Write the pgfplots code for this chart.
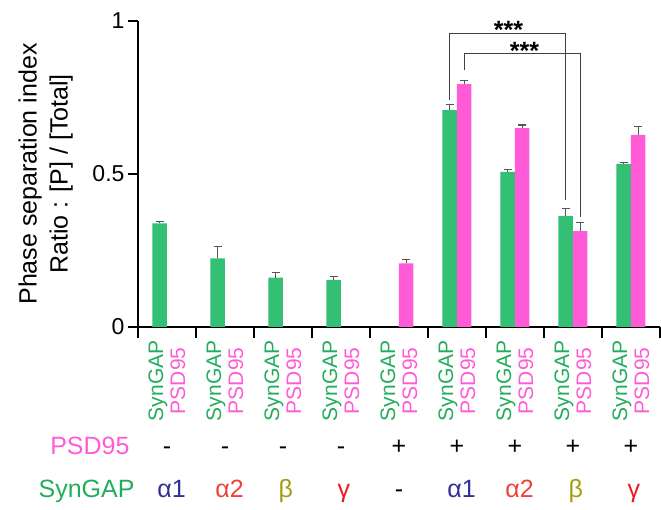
\documentclass[border=0pt]{standalone}
\usepackage{fontspec}
\setmainfont{Liberation Sans}
\usepackage{pgfplots}
\pgfplotsset{compat=1.18}
\definecolor{sgreen}{HTML}{33BF74}
\definecolor{tgreen}{HTML}{22AD5C}
\definecolor{spink}{HTML}{FF5BD6}
\definecolor{ga1}{HTML}{2E3192}
\definecolor{ga2}{HTML}{EF4136}
\definecolor{gb}{HTML}{A59B10}
\definecolor{gg}{HTML}{ED1C24}
\definecolor{ebar}{HTML}{555555}
\newcommand{\lab}{\textcolor{tgreen}{SynGAP}\\\textcolor{spink}{PSD95}}
\begin{document}
\begin{tikzpicture}
\path[use as bounding box] (-138pt,-183pt) rectangle (523pt,327pt);
\begin{axis}[
  at={(0,0)}, anchor=south west,
  scale only axis, width=522pt, height=306pt,
  xmin=0.5, xmax=9.5, ymin=0, ymax=1,
  axis x line*=bottom, axis y line*=left,
  axis line style={line width=1.1pt, black},
  clip=false,
  /pgf/number format/assume math mode=true,
  ytick={0,0.5,1}, yticklabels={0,0.5,1},
  yticklabel style={font=\fontsize{23}{26}\selectfont},
  xtick={1,...,9},
  xticklabels={{\lab},{\lab},{\lab},{\lab},{\lab},{\lab},{\lab},{\lab},{\lab}},
  xticklabel style={rotate=90, anchor=east, align=center, font=\fontsize{21}{22}\selectfont},
  major x tick style={draw=none},
  minor xtick={0.5,1.5,2.5,3.5,4.5,5.5,6.5,7.5,8.5,9.5},
  minor tick length=11pt,
  major tick length=10pt,
  tick align=outside,
  tick style={line width=1.1pt, black},
  ylabel={Phase separation index\\Ratio : [P] / [Total]},
  ylabel style={align=center, font=\fontsize{25}{31}\selectfont, at={(axis description cs:-0.177,0.5)}, anchor=center},
  error bars/y dir=plus, error bars/y explicit,
  error bars/error bar style={ebar, line width=1.1pt},
  error bars/error mark options={ebar, line width=1.1pt, mark size=3.8pt, rotate=90},
]
% SynGAP (green) bars, plotted at group - 0.125
\addplot[ybar, bar width=0.25, bar shift=0, fill=sgreen, draw=none]
  coordinates {
  (0.875,0.339) +- (0,0.005)
  (1.875,0.224) +- (0,0.038)
  (2.875,0.161) +- (0,0.018)
  (3.875,0.154) +- (0,0.010)
  (5.875,0.709) +- (0,0.017)
  (6.875,0.507) +- (0,0.009)
  (7.875,0.363) +- (0,0.025)
  (8.875,0.533) +- (0,0.006)
  };
% PSD95 (pink) bars, plotted at group + 0.125
\addplot[ybar, bar width=0.25, bar shift=0, fill=spink, draw=none]
  coordinates {
  (5.125,0.208) +- (0,0.012)
  (6.125,0.794) +- (0,0.011)
  (7.125,0.650) +- (0,0.010)
  (8.125,0.313) +- (0,0.028)
  (9.125,0.628) +- (0,0.026)
  };
% significance brackets
\addplot[sharp plot, no marks, draw=black!75, line width=1.1pt, forget plot]
  coordinates {(5.875,0.742) (5.875,0.958) (7.875,0.958) (7.875,0.415)};
\addplot[sharp plot, no marks, draw=black!75, line width=1.1pt, forget plot]
  coordinates {(6.125,0.840) (6.125,0.894) (8.125,0.894) (8.125,0.360)};
\node[anchor=base, font=\fontsize{25}{28}\selectfont\bfseries] at (axis cs:6.888,0.944) {***};
\node[anchor=base, font=\fontsize{25}{28}\selectfont\bfseries] at (axis cs:7.164,0.874) {***};
% condition rows
\begin{scope}[every node/.style={font=\fontsize{25}{28}\selectfont, anchor=base}]
\node[anchor=base east, text=spink] at (axis cs:0.414,-0.418) {PSD95};
\node at (axis cs:1,-0.418) {-};
\node at (axis cs:2,-0.418) {-};
\node at (axis cs:3,-0.418) {-};
\node at (axis cs:4,-0.418) {-};
\node at (axis cs:5,-0.418) {+};
\node at (axis cs:6,-0.418) {+};
\node at (axis cs:7,-0.418) {+};
\node at (axis cs:8,-0.418) {+};
\node at (axis cs:9,-0.418) {+};
\node[anchor=base east, text=tgreen] at (axis cs:0.5,-0.556) {SynGAP};
\node[text=ga1] at (axis cs:1.08,-0.556) {α1};
\node[text=ga2] at (axis cs:2.08,-0.556) {α2};
\node[text=gb] at (axis cs:3.05,-0.556) {β};
\node[text=gg] at (axis cs:4.05,-0.556) {γ};
\node at (axis cs:5,-0.556) {-};
\node[text=ga1] at (axis cs:6.08,-0.556) {α1};
\node[text=ga2] at (axis cs:7.08,-0.556) {α2};
\node[text=gb] at (axis cs:8.05,-0.556) {β};
\node[text=gg] at (axis cs:9.05,-0.556) {γ};
\end{scope}
\end{axis}
\end{tikzpicture}
\end{document}
